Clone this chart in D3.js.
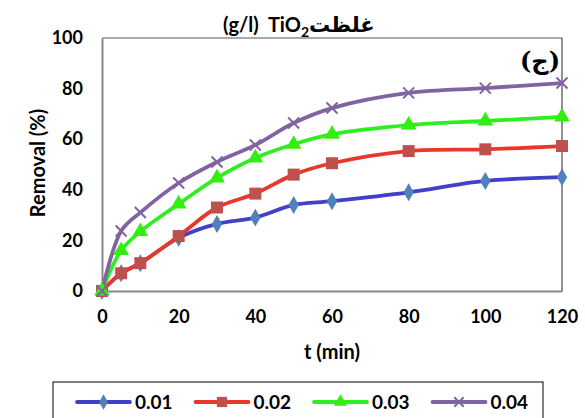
<!DOCTYPE html>
<html>
<head>
<meta charset="utf-8">
<script src="https://cdn.jsdelivr.net/npm/d3@7"></script>
<style>
  html, body { margin: 0; padding: 0; background: #fff; }
  svg { display: block; }
  text { font-family: Lato, "DejaVu Sans", sans-serif; font-weight: bold; fill: #000; }
</style>
</head>
<body>
<svg id="chart" width="585" height="418"></svg>
<script>
// Removal (%) versus contact time for four TiO2 doses (g/l)
const times = [0, 5, 10, 20, 30, 40, 50, 60, 80, 100, 120];
const seriesNames = ["0.01", "0.02", "0.03", "0.04"];
const removal001 = [0, 7, 11, 21, 26.5, 29, 34, 35.5, 39, 43.5, 45];
const removal002 = [0, 7, 11, 21.7, 33, 38.5, 46, 50.5, 55.3, 56, 57.3];
const removal003 = [0, 16, 23.5, 34.4, 44.7, 52.6, 58, 62, 65.6, 67.2, 68.8];
const removal004 = [0, 23.7, 31, 42.7, 51, 57.7, 66.4, 72.3, 78.3, 80.2, 82.2];
const xTicks = [0, 20, 40, 60, 80, 100, 120];
const yTicks = [0, 20, 40, 60, 80, 100];

const svg = d3.select("#chart");
const plot = { left: 102, right: 562, top: 38, bottom: 291 };

const x = d3.scaleLinear().domain([0, 120]).range([plot.left, plot.right]);
const y = d3.scaleLinear().domain([0, 100]).range([plot.bottom, plot.top]);

const styles = [
  { line: "#4040C8", marker: "#4F81BD", shape: "diamond" },
  { line: "#E8382A", marker: "#C0504D", shape: "square" },
  { line: "#2EEE22", marker: "#33EE11", shape: "triangle" },
  { line: "#8064A2", marker: "#8064A2", shape: "cross" }
];
const allSeries = [removal001, removal002, removal003, removal004].map((vals, i) => ({
  name: seriesNames[i],
  style: styles[i],
  points: vals.map((v, j) => ({ t: times[j], v }))
}));

// Plot frame: grey axis lines on the left and bottom, thin dark border elsewhere
svg.append("line").attr("x1", plot.left).attr("x2", plot.right).attr("y1", plot.top).attr("y2", plot.top)
  .attr("stroke", "#555").attr("stroke-width", 1);
svg.append("line").attr("x1", plot.right).attr("x2", plot.right).attr("y1", plot.top).attr("y2", plot.bottom)
  .attr("stroke", "#222").attr("stroke-width", 1);

const xAxis = d3.axisBottom(x).tickValues(xTicks).tickSize(0).tickPadding(19);
const yAxis = d3.axisLeft(y).tickValues(yTicks).tickSize(0).tickPadding(19);

const gx = svg.append("g").attr("transform", `translate(0,${plot.bottom})`).call(xAxis);
const gy = svg.append("g").attr("transform", `translate(${plot.left},0)`).call(yAxis);
[gx, gy].forEach(g => {
  g.select(".domain").attr("stroke", "#888").attr("stroke-width", 2);
  g.selectAll("text").style("font-family", "Lato, sans-serif").style("font-weight", "bold")
    .style("font-size", "18px").attr("fill", "#000");
});

// Marker symbols
function drawMarker(sel, shape, color, size) {
  if (shape === "cross") {
    const s = size / 2;
    sel.append("path")
      .attr("d", `M${-s},${-s}L${s},${s}M${-s},${s}L${s},${-s}`)
      .attr("stroke", color).attr("stroke-width", 2).attr("fill", "none");
  } else {
    const type = shape === "diamond" ? d3.symbolDiamond : shape === "square" ? d3.symbolSquare : d3.symbolTriangle;
    const area = shape === "square" ? size * size : size * size * 0.55;
    sel.append("path").attr("d", d3.symbol().type(type).size(area)).attr("fill", color);
  }
}
const markerSize = { diamond: 13, square: 12, triangle: 14, cross: 11 };

const line = d3.line().x(d => x(d.t)).y(d => y(d.v)).curve(d3.curveCatmullRom.alpha(0.5));

allSeries.forEach(s => {
  svg.append("path").datum(s.points).attr("d", line)
    .attr("fill", "none").attr("stroke", s.style.line).attr("stroke-width", 3.8)
    .attr("stroke-linejoin", "round").attr("stroke-linecap", "round");
});
allSeries.forEach(s => {
  svg.selectAll(null).data(s.points).enter().append("g")
    .attr("transform", d => `translate(${x(d.t)},${y(d.v)})`)
    .each(function () { drawMarker(d3.select(this), s.style.shape, s.style.marker, markerSize[s.style.shape]); });
});

// Title (Persian with chemical formula)
const title = svg.append("text").attr("x", 223).attr("y", 32).attr("text-anchor", "start")
  .attr("direction", "ltr").style("font-size", "20px");
title.append("tspan").text("(g/l)\u00A0\u00A0TiO");
title.append("tspan").attr("dy", 5).style("font-size", "14px").text("2");
title.append("tspan").attr("dy", -5).style("font-size", "21px").text("غلظت");

// Panel label
svg.append("text").attr("x", 540).attr("y", 69).attr("text-anchor", "middle")
  .style("font-family", "'DejaVu Serif', 'DejaVu Sans', serif").style("font-size", "24px").style("font-weight", "bold")
  .text("(ج)");

// Axis titles
svg.append("text").attr("x", 332).attr("y", 359).attr("text-anchor", "middle")
  .style("font-size", "20px").text("t (min)");
svg.append("text").attr("transform", "translate(45,163) rotate(-90)").attr("text-anchor", "middle")
  .style("font-size", "20px").text("Removal (%)");

// Legend
const legend = svg.append("g");
legend.append("rect").attr("x", 53).attr("y", 382).attr("width", 490).attr("height", 50)
  .attr("fill", "none").attr("stroke", "#000").attr("stroke-width", 1);
allSeries.forEach((s, i) => {
  const lx = 77 + i * 118.5;
  const g = legend.append("g").attr("transform", `translate(${lx},402)`);
  g.append("line").attr("x1", 0).attr("x2", 53).attr("y1", 0).attr("y2", 0)
    .attr("stroke", s.style.line).attr("stroke-width", 3.8).attr("stroke-linecap", "round");
  const m = g.append("g").attr("transform", "translate(26.5,0)");
  drawMarker(m, s.style.shape, s.style.marker, markerSize[s.style.shape] * 0.85);
  g.append("text").attr("x", 58).attr("y", 0).attr("dy", "0.35em").style("font-size", "19px").text(s.name);
});
</script>
</body>
</html>
